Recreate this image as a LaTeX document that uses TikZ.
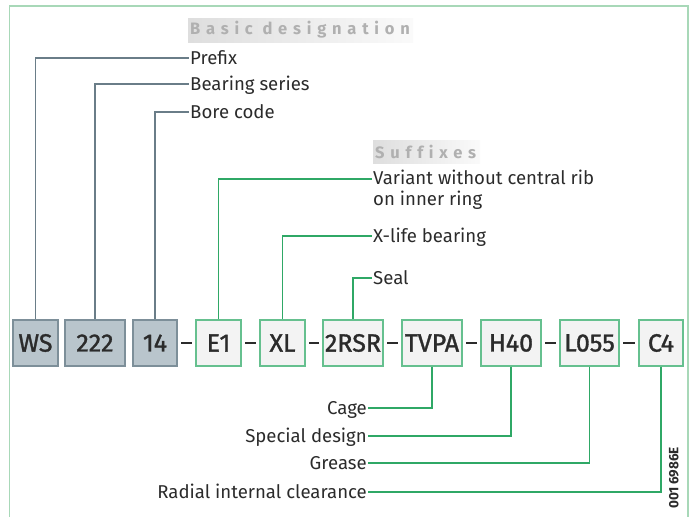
\documentclass[tikz,border=0pt]{standalone}
\usepackage{fontspec}
\setmainfont{Fira Sans}
\newfontfamily\boxfont{Fira Sans}[FakeBold=1.3]
\usetikzlibrary{calc}
\definecolor{framec}{HTML}{A8D8B8}
\definecolor{basicfill}{HTML}{B9C5CC}
\definecolor{basicdraw}{HTML}{7D8F99}
\definecolor{basicline}{HTML}{6A7D88}
\definecolor{sufffill}{HTML}{F3F3F3}
\definecolor{suffdraw}{HTML}{66C08F}
\definecolor{suffline}{HTML}{2FA866}
\definecolor{txt}{HTML}{2B2B2B}
\definecolor{headtxt}{HTML}{B0B0B0}
\tikzset{
  codebox/.style={minimum height=46pt, inner sep=0pt, line width=1.2pt, text=txt,
    font=\boxfont\fontsize{25}{28}\selectfont},
  basicbox/.style={codebox, fill=basicfill, draw=basicdraw},
  suffbox/.style={codebox, fill=sufffill, draw=suffdraw},
  lbl/.style={inner sep=1pt, text=txt, font=\fontsize{18.6}{20.5}\selectfont, text height=13pt, text depth=0pt},
  heading/.style={inner sep=0pt, text=headtxt, anchor=west,
    font=\bfseries\fontsize{16.5}{18}\selectfont\addfontfeatures{LetterSpace=35,Ligatures=NoCommon}},
  blink/.style={draw=basicline, line width=1.2pt},
  slink/.style={draw=suffline, line width=1.2pt},
  dashline/.style={draw=txt, line width=1.6pt},
}
\begin{document}
\begin{tikzpicture}[x=1pt,y=-1pt]
\useasboundingbox (0,0) rectangle (689,517);
% frame
\draw[framec, line width=1.6pt] (9.5,517) -- (9.5,6) -- (688,6) -- (688,517);
% headings
\shade[left color=black!13, right color=black!2] (188,18) rectangle (413,42);
\node[heading] (hbasic) at (190,30) {Basic designation};
\shade[left color=black!13, right color=black!2] (373,140) rectangle (480,163);
\node[heading] (hsuff) at (375,152) {Suffixes};
% boxes
\node[basicbox, minimum width=45pt] (ws)   at (35.5,343) {WS};
\node[basicbox, minimum width=60pt] (s222) at (95,343) {222};
\node[basicbox, minimum width=44pt] (b14)  at (155,343) {14};
\node[suffbox, minimum width=45pt] (e1)   at (218.5,343) {E1};
\node[suffbox, minimum width=45pt] (xl)   at (282.5,343) {XL};
\node[suffbox, minimum width=60pt] (rsr)  at (353,343) {2RSR};
\node[suffbox, minimum width=60pt] (tvpa) at (432,343) {TVPA};
\node[suffbox, minimum width=60pt] (h40)  at (511,343) {H40};
\node[suffbox, minimum width=59pt] (l055) at (589.5,343) {L055};
\node[suffbox, minimum width=44pt] (c4)   at (661,343) {C4};
% dashes
\foreach \a/\b in {b14/e1, e1/xl, xl/rsr, rsr/tvpa, tvpa/h40, h40/l055, l055/c4}{
  \draw[dashline] ($(\a.east)+(3.5,0)$) -- ($(\b.west)+(-3.5,0)$);
}
% upper labels
\node[lbl, anchor=west] (prefix) at (189,58) {Prefix};
\node[lbl, anchor=west] (series) at (189,84) {Bearing series};
\node[lbl, anchor=west] (bore)   at (189,112) {Bore code};
\node[lbl, anchor=north west, align=left, text height=, text depth=] (variant) at (372,169) {Variant without central rib\\on inner ring};
\node[lbl, anchor=west] (xlife) at (372,236) {X-life bearing};
\node[lbl, anchor=west] (seal)  at (372,278) {Seal};
\draw[blink] (ws.north) |- (prefix.west);
\draw[blink] (s222.north) |- (series.west);
\draw[blink] (b14.north) |- (bore.west);
\draw[slink] (e1.north) |- ($(variant.north west)+(0,10)$);
\draw[slink] (xl.north) |- (xlife.west);
\draw[slink] (rsr.north) |- (seal.west);
% lower labels
\node[lbl, anchor=east] (cage)   at (368,408) {Cage};
\node[lbl, anchor=east] (special) at (368,436) {Special design};
\node[lbl, anchor=east] (grease) at (368,463) {Grease};
\node[lbl, anchor=east] (radial) at (368,492) {Radial internal clearance};
\draw[slink] (tvpa.south) |- (cage.east);
\draw[slink] (h40.south) |- (special.east);
\draw[slink] (l055.south) |- (grease.east);
\draw[slink] (c4.south) |- (radial.east);
% drawing number
\node[rotate=90, inner sep=0pt, text=txt, font=\bfseries\fontsize{13.5}{15}\selectfont] (num) at (674,478) {001\,6986E};
\end{tikzpicture}
\end{document}
